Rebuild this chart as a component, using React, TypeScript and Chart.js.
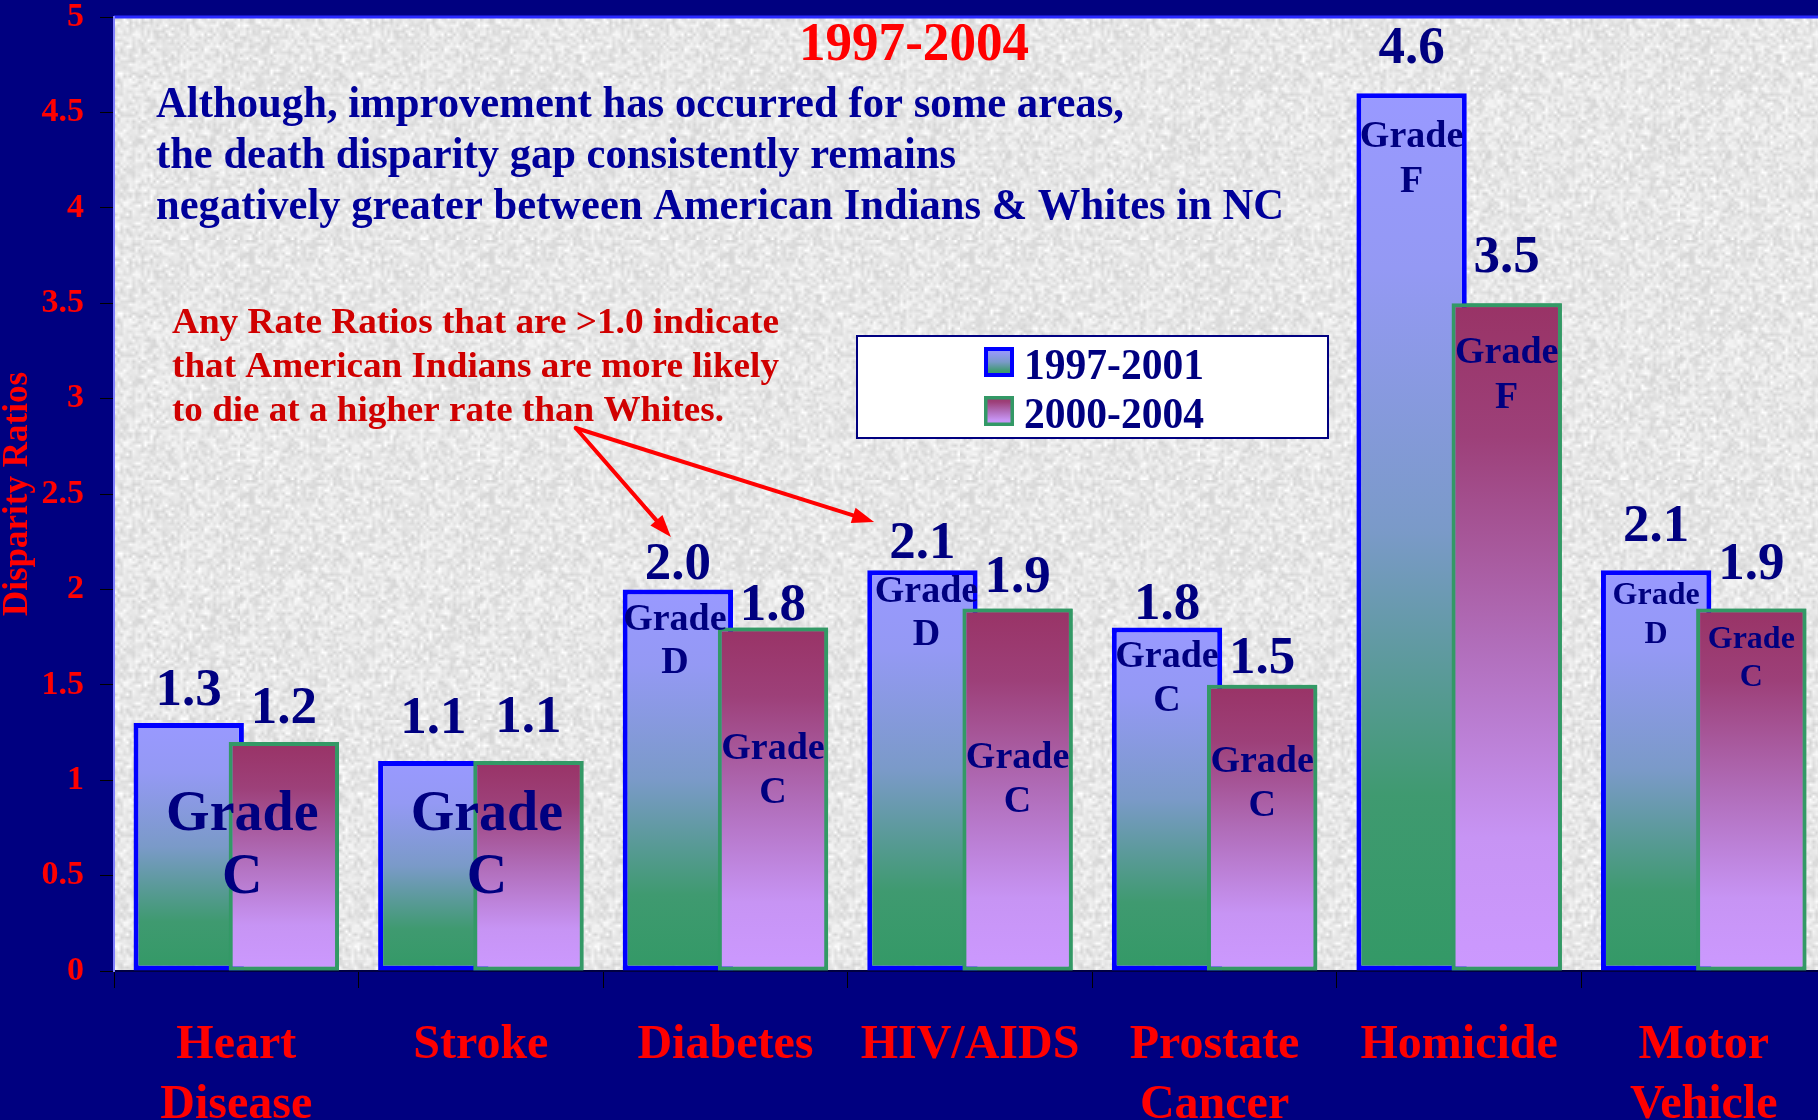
import React, { useEffect, useRef } from 'react';
import { Chart, registerables } from 'chart.js';

Chart.register(...registerables);

// ---------------- data ----------------
const categories: (string | string[])[] = [
  ['Heart', 'Disease'],
  'Stroke',
  'Diabetes',
  'HIV/AIDS',
  ['Prostate', 'Cancer'],
  'Homicide',
  ['Motor', 'Vehicle'],
];
const seriesNames = ['1997-2001', '2000-2004'];
const ratios1997to2001 = [1.3, 1.1, 2.0, 2.1, 1.8, 4.6, 2.1];
const ratios2000to2004 = [1.2, 1.1, 1.8, 1.9, 1.5, 3.5, 1.9];
const grades1997to2001 = ['C', 'C', 'D', 'D', 'C', 'F', 'D'];
const grades2000to2004 = ['C', 'C', 'C', 'C', 'C', 'F', 'C'];
const yTickLabels = ['0', '0.5', '1', '1.5', '2', '2.5', '3', '3.5', '4', '4.5', '5'];

const titleText = '1997-2004';
const subtitleLines = [
  'Although, improvement has occurred for some areas,',
  'the death disparity gap consistently remains',
  'negatively greater between American Indians & Whites in NC',
];
const noteLines = [
  'Any Rate Ratios that are >1.0 indicate',
  'that American Indians are more likely',
  'to die at a higher rate than Whites.',
];
const yAxisTitle = 'Disparity Ratios';

// ---------------- styling / annotation layout ----------------
const FONT = "'Liberation Serif', 'Times New Roman', Times, serif";
const NAVY_BG = '#000080';
const LABEL_NAVY = '#000080';
const RED = '#ff0000';

const BLUE_STOPS: [number, string][] = [
  [0, '#9999ff'],
  [0.2, '#9499f4'],
  [0.5, '#7a9ac8'],
  [0.8, '#3f9a70'],
  [1, '#339966'],
];
const RED_STOPS: [number, string][] = [
  [0, '#993366'],
  [0.2, '#9d4079'],
  [0.5, '#b06cb8'],
  [0.8, '#c794f4'],
  [1, '#cc99ff'],
];

// pixel gap between bar top and its value label baseline
const valueGap = [
  [18, 28, 10, 12, 9, 30, 29],
  [19, 29, 8, 16, 12, 31, 29],
];

// grade annotations: ds = -1 means centred on the whole category
const gradeNotes = [
  { i: 0, ds: -1, v: 0.739, size: 56, lead: 63, dx: 6 },
  { i: 1, ds: -1, v: 0.739, size: 56, lead: 63, dx: 6 },
  { i: 2, ds: 0, v: 1.787, size: 38, lead: 43, dx: -3 },
  { i: 2, ds: 1, v: 1.11, size: 38, lead: 44, dx: 0 },
  { i: 3, ds: 0, v: 1.934, size: 38, lead: 43, dx: 4 },
  { i: 3, ds: 1, v: 1.066, size: 38, lead: 44, dx: 0 },
  { i: 4, ds: 0, v: 1.595, size: 38, lead: 44, dx: 0 },
  { i: 4, ds: 1, v: 1.043, size: 38, lead: 44, dx: 0 },
  { i: 5, ds: 0, v: 4.319, size: 38, lead: 45, dx: 0 },
  { i: 5, ds: 1, v: 3.187, size: 38, lead: 45, dx: 0 },
  { i: 6, ds: 0, v: 1.923, size: 32, lead: 39, dx: 0 },
  { i: 6, ds: 1, v: 1.693, size: 32, lead: 38, dx: 0 },
];

// arrows in (category position, value) space
const arrowStart = { c: 1.388, v: 2.846 };
const arrowTips = [
  { c: 1.777, v: 2.275 },
  { c: 2.608, v: 2.353 },
];

function makeGradient(ctx: CanvasRenderingContext2D, top: number, bottom: number, stops: [number, string][]) {
  const g = ctx.createLinearGradient(0, top, 0, bottom);
  stops.forEach(([o, c]) => g.addColorStop(o, c));
  return g;
}

function barFill(stops: [number, string][]) {
  return (c: any) => {
    const chart = c.chart;
    const y = chart.scales?.y;
    if (!chart.chartArea || !y || c.type !== 'data') return stops[0][1];
    const top = y.getPixelForValue(c.raw);
    const bottom = y.getPixelForValue(0);
    if (!isFinite(top) || !isFinite(bottom) || bottom - top < 1) return stops[0][1];
    return makeGradient(chart.ctx, top, bottom, stops);
  };
}

function hash(x: number, y: number) {
  let h = Math.imul(x, 374761393) + Math.imul(y, 668265263);
  h = Math.imul(h ^ (h >>> 13), 1274126177);
  h = h ^ (h >>> 16);
  return (h >>> 0) / 4294967295;
}

let texturePattern: CanvasPattern | null = null;
function getTexture(ctx: CanvasRenderingContext2D) {
  if (texturePattern) return texturePattern;
  const n = 80;
  const small = document.createElement('canvas');
  small.width = n;
  small.height = n;
  const sctx = small.getContext('2d')!;
  const img = sctx.createImageData(n, n);
  for (let y = 0; y < n; y++) {
    for (let x = 0; x < n; x++) {
      const a = hash(x, y);
      const b = hash(x + 101, y + 57);
      const g = Math.round(212 + a * 34 + (b > 0.85 ? 12 : 0));
      const k = (y * n + x) * 4;
      img.data[k] = g;
      img.data[k + 1] = g;
      img.data[k + 2] = g;
      img.data[k + 3] = 255;
    }
  }
  sctx.putImageData(img, 0, 0);
  const tile = document.createElement('canvas');
  tile.width = n * 3;
  tile.height = n * 3;
  const tctx = tile.getContext('2d')!;
  tctx.imageSmoothingEnabled = true;
  tctx.drawImage(small, 0, 0, n * 3, n * 3);
  texturePattern = ctx.createPattern(tile, 'repeat');
  return texturePattern;
}

function drawText(
  ctx: CanvasRenderingContext2D,
  text: string,
  x: number,
  y: number,
  size: number,
  color: string,
  align: 'left' | 'center' | 'right' = 'left',
  width?: number
) {
  ctx.save();
  ctx.font = `bold ${size}px ${FONT}`;
  ctx.fillStyle = color;
  ctx.textBaseline = 'alphabetic';
  ctx.textAlign = 'left';
  const m = ctx.measureText(text).width;
  const sx = width ? width / m : 1;
  const w = m * sx;
  let left = x;
  if (align === 'center') left = x - w / 2;
  else if (align === 'right') left = x - w;
  ctx.translate(left, y);
  ctx.scale(sx, 1);
  ctx.fillText(text, 0, 0);
  ctx.restore();
}

function drawArrow(ctx: CanvasRenderingContext2D, x0: number, y0: number, x1: number, y1: number) {
  const ang = Math.atan2(y1 - y0, x1 - x0);
  const head = 22;
  const half = 8;
  const bx = x1 - head * Math.cos(ang);
  const by = y1 - head * Math.sin(ang);
  ctx.save();
  ctx.strokeStyle = '#ff0000';
  ctx.fillStyle = '#ff0000';
  ctx.lineWidth = 4;
  ctx.lineCap = 'round';
  ctx.beginPath();
  ctx.moveTo(x0, y0);
  ctx.lineTo(bx, by);
  ctx.stroke();
  ctx.beginPath();
  ctx.moveTo(x1, y1);
  ctx.lineTo(bx + half * Math.sin(ang), by - half * Math.cos(ang));
  ctx.lineTo(bx - half * Math.sin(ang), by + half * Math.cos(ang));
  ctx.closePath();
  ctx.fill();
  ctx.restore();
}

const backgroundPlugin = {
  id: 'slideBackground',
  beforeDraw(chart: any) {
    const { ctx, chartArea: a, width, height } = chart;
    ctx.save();
    ctx.fillStyle = NAVY_BG;
    ctx.fillRect(0, 0, width, height);
    ctx.fillStyle = '#e2e2e2';
    ctx.fillRect(a.left, a.top, a.right - a.left, a.bottom - a.top);
    const pat = getTexture(ctx);
    if (pat) {
      ctx.fillStyle = pat;
      ctx.fillRect(a.left, a.top, a.right - a.left, a.bottom - a.top);
    }
    ctx.strokeStyle = '#2a2aff';
    ctx.lineWidth = 3;
    ctx.beginPath();
    ctx.moveTo(a.left, a.top);
    ctx.lineTo(a.right, a.top);
    ctx.stroke();
    ctx.restore();
  },
};

const annotationPlugin = {
  id: 'slideAnnotations',
  afterDatasetsDraw(chart: any) {
    const { ctx } = chart;
    const xs = chart.scales.x;
    const ys = chart.scales.y;
    const metas = [chart.getDatasetMeta(0), chart.getDatasetMeta(1)];
    const grades = [grades1997to2001, grades2000to2004];

    // the later period's bars overlap the earlier ones: draw them on top
    ctx.save();
    metas[1].data.forEach((el: any) => el.draw(ctx));
    ctx.restore();

    metas.forEach((meta: any, ds: number) => {
      const values = chart.data.datasets[ds].data as number[];
      meta.data.forEach((bar: any, i: number) => {
        const top = ys.getPixelForValue(values[i]);
        drawText(ctx, values[i].toFixed(1), bar.x, top - valueGap[ds][i], 53, LABEL_NAVY, 'center');
      });
    });

    gradeNotes.forEach((g) => {
      const x = g.ds < 0 ? xs.getPixelForValue(g.i) + g.dx : metas[g.ds].data[g.i].x + g.dx;
      const y = ys.getPixelForValue(g.v);
      const letter = g.ds < 0 ? grades[0][g.i] : grades[g.ds][g.i];
      drawText(ctx, 'Grade', x, y, g.size, LABEL_NAVY, 'center');
      drawText(ctx, letter, x, y + g.lead, g.size, LABEL_NAVY, 'center');
    });
  },
  afterDraw(chart: any) {
    const { ctx, chartArea: a } = chart;
    const xs = chart.scales.x;
    const ys = chart.scales.y;
    const catW = xs.getPixelForValue(1) - xs.getPixelForValue(0);
    const px = (c: number) => xs.getPixelForValue(0) + c * catW;

    drawText(ctx, titleText, a.left + 800, a.top + 43, 54, RED, 'center', 230);
    const subW = [968, 800, 1128];
    subtitleLines.forEach((t, k) => drawText(ctx, t, a.left + 42, a.top + 100 + k * 51, 45, '#00009a', 'left', subW[k]));
    const noteW = [607, 607, 552];
    noteLines.forEach((t, k) => drawText(ctx, t, a.left + 58, a.top + 316 + k * 44, 35, '#d00000', 'left', noteW[k]));

    const sx = px(arrowStart.c);
    const sy = ys.getPixelForValue(arrowStart.v);
    arrowTips.forEach((t) => drawArrow(ctx, sx, sy, px(t.c), ys.getPixelForValue(t.v)));

    const lx = a.left + 743;
    const ly = a.top + 319;
    const lw = 471;
    const lh = 102;
    ctx.save();
    ctx.fillStyle = '#ffffff';
    ctx.fillRect(lx, ly, lw, lh);
    ctx.strokeStyle = '#000080';
    ctx.lineWidth = 2;
    ctx.strokeRect(lx, ly, lw, lh);
    const items = [
      { stops: BLUE_STOPS, border: '#0000ff', bw: 4, y: ly + 11 },
      { stops: RED_STOPS, border: '#339966', bw: 3.5, y: ly + 60 },
    ];
    items.forEach((it, k) => {
      const bx = lx + 127;
      const size = 30;
      ctx.fillStyle = makeGradient(ctx, it.y, it.y + size, it.stops);
      ctx.fillRect(bx, it.y, size, size);
      ctx.strokeStyle = it.border;
      ctx.lineWidth = it.bw;
      ctx.strokeRect(bx + it.bw / 2, it.y + it.bw / 2, size - it.bw, size - it.bw);
      drawText(ctx, chart.data.datasets[k].label, lx + 167, it.y + 32, 44, LABEL_NAVY, 'left', 180);
    });
    ctx.restore();
  },
};

export default function App() {
  const canvasRef = useRef<HTMLCanvasElement | null>(null);

  useEffect(() => {
    document.body.style.margin = '0';
    const canvas = canvasRef.current;
    if (!canvas) return;
    const chart = new Chart(canvas, {
      type: 'bar',
      data: {
        labels: categories as any,
        datasets: [
          {
            label: seriesNames[0],
            data: ratios1997to2001,
            backgroundColor: barFill(BLUE_STOPS) as any,
            borderColor: '#0000ff',
            borderWidth: 5,
            borderSkipped: false,
            categoryPercentage: 0.778,
            barPercentage: 1.16,
          },
          {
            label: seriesNames[1],
            data: ratios2000to2004,
            backgroundColor: barFill(RED_STOPS) as any,
            borderColor: '#339966',
            borderWidth: 4,
            borderSkipped: false,
            categoryPercentage: 0.778,
            barPercentage: 1.16,
          },
        ],
      },
      options: {
        responsive: false,
        animation: false,
        devicePixelRatio: 1,
        layout: { padding: { top: 17, left: 0, right: 0, bottom: 0 } },
        plugins: {
          legend: { display: false },
          tooltip: { enabled: false },
          title: { display: false },
        },
        scales: {
          x: {
            offset: true,
            afterFit: (s: any) => {
              s.height = 149;
            },
            grid: {
              display: true,
              offset: true,
              drawOnChartArea: false,
              drawTicks: true,
              tickLength: 17,
              color: '#000000',
              lineWidth: 1,
            },
            border: { display: true, color: '#000040', width: 2 },
            ticks: {
              color: RED,
              padding: 28,
              autoSkip: false,
              maxRotation: 0,
              minRotation: 0,
              font: { family: FONT, size: 48, weight: 'bold', lineHeight: 1.25 },
            },
          },
          y: {
            min: 0,
            max: 5,
            afterFit: (s: any) => {
              s.width = 114;
            },
            grid: {
              display: true,
              drawOnChartArea: false,
              drawTicks: true,
              tickLength: 14,
              color: '#000000',
              lineWidth: 1,
            },
            border: { display: true, color: '#7f7fff', width: 2 },
            ticks: {
              stepSize: 0.5,
              color: RED,
              padding: 16,
              font: { family: FONT, size: 34, weight: 'bold', lineHeight: 0.01 },
              callback: (_v: any, idx: number) => yTickLabels[idx],
            },
            title: {
              display: true,
              text: yAxisTitle,
              color: RED,
              padding: 0,
              font: { family: FONT, size: 35, weight: 'bold', lineHeight: 1.0 },
            },
          },
        },
      },
      plugins: [backgroundPlugin, annotationPlugin],
    });
    return () => chart.destroy();
  }, []);

  return (
    <div
      style={{
        position: 'absolute',
        left: 0,
        top: 0,
        width: 1818,
        height: 1120,
        background: NAVY_BG,
        overflow: 'hidden',
      }}
    >
      <canvas ref={canvasRef} width={1826} height={1120} style={{ display: 'block', width: 1826, height: 1120 }} />
    </div>
  );
}
